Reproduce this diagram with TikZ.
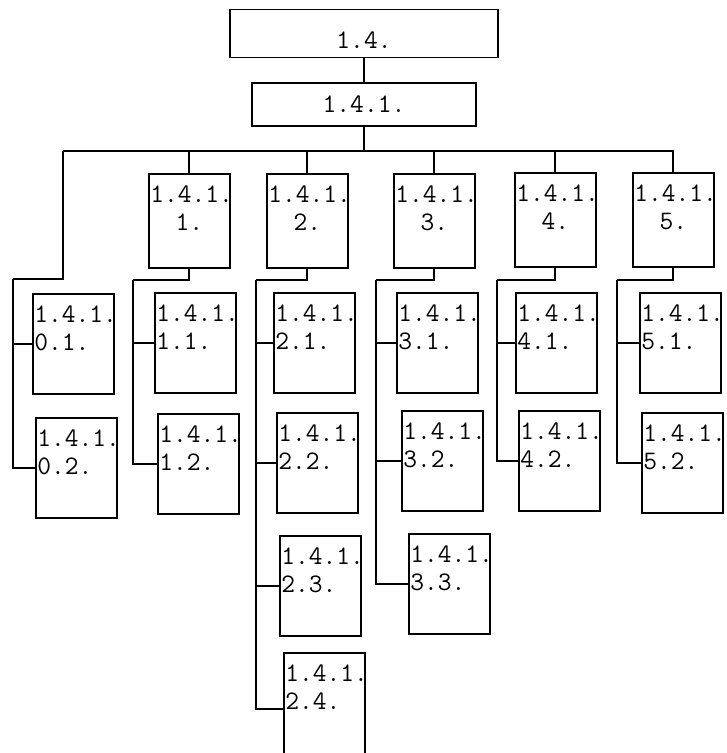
\documentclass[tikz,border=0pt]{standalone}
\usepackage{fontspec}
\newcommand{\subtext}[3]{\parbox[t][#1][t]{1.95cm}{#2\\#3}}
\newcommand{\unittext}[2]{\parbox[t][1.75cm][t]{1.95cm}{\centering #1\\#2}}
\begin{document}
\begin{tikzpicture}[x=0.025cm,y=-0.025cm,line width=1.4pt,
    font=\fontsize{19}{20}\selectfont\ttfamily,
    head/.style={draw,minimum height=1.2cm},
    unit/.style={draw,anchor=north west,inner xsep=1pt,inner ysep=8.5pt},
    sub/.style={draw,anchor=north west,inner xsep=1pt,inner ysep=8.5pt}]
  \useasboundingbox (0,0) rectangle (726,753);
  % upper levels
  \node[head,minimum width=6.68cm,text height=22pt,text depth=0pt] (n14) at (364,33.5) {1.4.};
  \node[head,minimum width=5.6cm,minimum height=1.08cm] (n141) at (364,104.5) {1.4.1.};
  \draw (n14) -- (n141);
  \coordinate (busL) at (63,151);
  \coordinate (busR) at (674,151);
  \draw (busL) -- (busR);
  \draw (n141) -- (n141 |- busL);
  % second level
  \foreach \n/\x/\y/\cx in {1/148/173/133, 2/266/173/256, 3/393/173/376, 4/514/172/497, 5/632/172/617}{
    \node[unit] (u\n) at (\x,\y) {\unittext{1.4.1.}{\n.}};
    \draw (u\n) -- (u\n |- busL);
    \coordinate (c\n) at (\cx,280);
    \draw (u\n) |- (c\n);
  }
  \coordinate (c0) at (13,279);
  \draw (busL) |- (c0);
  % third level
  \foreach \c/\s/\x/\y/\h in {0/1/32/293/1.9cm, 0/2/35/417/1.9cm,
      1/1/154/292/1.9cm, 1/2/157/413/1.9cm,
      2/1/273/292/1.9cm, 2/2/276/412/1.9cm, 2/3/279/535/1.9cm, 2/4/283/652/2.2cm,
      3/1/396/292/1.9cm, 3/2/401/410/1.9cm, 3/3/408/533/1.9cm,
      4/1/515/292/1.9cm, 4/2/518/410/1.9cm,
      5/1/639/292/1.9cm, 5/2/641/412/1.9cm}{
    \node[sub] (s\c\s) at (\x,\y) {\subtext{\h}{1.4.1.}{\c.\s.}};
    \draw (c\c) |- (s\c\s);
  }
\end{tikzpicture}
\end{document}
